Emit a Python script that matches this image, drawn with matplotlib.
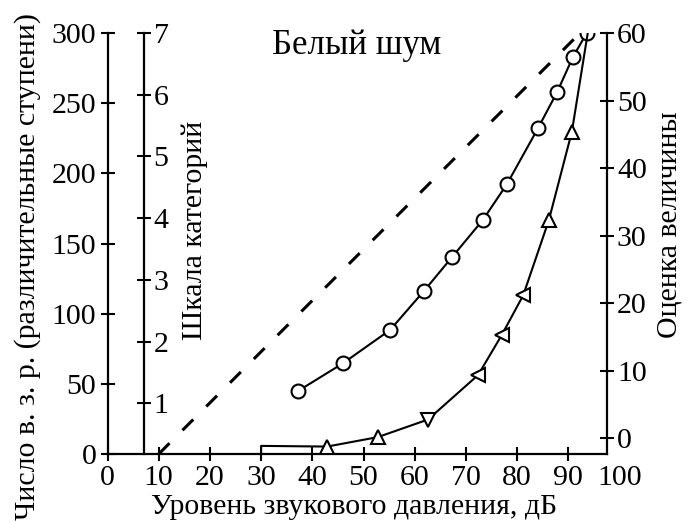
import matplotlib
matplotlib.use('Agg')
import matplotlib.pyplot as plt

plt.rcParams['font.family'] = ['Liberation Serif', 'DejaVu Serif']

# уровень звукового давления, дБ
circle_x = [37.2, 46.0, 55.2, 61.8, 67.3, 73.3, 78.0, 84.1, 87.8, 90.9, 93.6]
# шкала категорий (1..7)
circle_y = [1.20, 1.65, 2.19, 2.82, 3.37, 3.97, 4.55, 5.46, 6.04, 6.61, 7.0]

# оценка величины (0..60); first two points are the flat start, last is the shared top
tri_x = [30.0, 30.0, 42.9, 52.8, 62.6, 72.4, 77.0, 81.2, 86.2, 90.7, 93.8]
tri_y = [-2.3, -1.1, -1.2, 0.2, 2.8, 9.4, 15.3, 21.2, 32.3, 45.4, 60.0]
tri_marks = ['', '', '^', '^', 'v', '<', '<', '<', '^', '^', '']

# число в. з. р. - straight dashed line
jnd_x = [10, 92.3]
jnd_y = [0, 300]

x_ticks = list(range(0, 101, 10))
left_ticks = [0, 50, 100, 150, 200, 250, 300]
cat_ticks = [1, 2, 3, 4, 5, 6, 7]
right_ticks = [0, 10, 20, 30, 40, 50, 60]

W, H = 693, 522
fig = plt.figure(figsize=(W / 100, H / 100), dpi=100)
ax = fig.add_axes([107.5 / W, 68 / H, 512 / W, 421 / H])

lw = 1.6
fs = 21.5
tick_kw = dict(direction='inout', length=10, width=1.5, labelsize=fs)

# main axes: left scale 0..300
ax.set_xlim(0, 100)
ax.set_ylim(0, 300)
for s in ['top', 'right']:
    ax.spines[s].set_visible(False)
ax.spines['left'].set_linewidth(lw)
ax.spines['bottom'].set_linewidth(lw)
ax.spines['bottom'].set_bounds(0, 97.6)
ax.set_xticks(x_ticks)
ax.set_yticks(left_ticks)
ax.tick_params(axis='both', pad=3, **tick_kw)
ax.xaxis.get_major_ticks()[-1].tick1line.set_visible(False)

ax.plot(jnd_x, jnd_y, color='black', lw=2.2, ls=(0, (5, 6)), zorder=2)

# category scale axis
ax2 = ax.twinx()
ax2.set_ylim(0.18, 7)
for s in ['top', 'left', 'bottom']:
    ax2.spines[s].set_visible(False)
ax2.spines['right'].set_position(('data', 7.1))
ax2.spines['right'].set_linewidth(lw)
ax2.set_yticks(cat_ticks)
ax2.tick_params(axis='y', pad=2, **tick_kw)
ax2.plot(circle_x, circle_y, color='black', lw=1.5, marker='o', ms=10,
         mfc='white', mec='black', mew=1.5, zorder=3)

# magnitude estimation axis
ax3 = ax.twinx()
ax3.set_ylim(-2.3, 60)
for s in ['top', 'left', 'bottom']:
    ax3.spines[s].set_visible(False)
ax3.spines['right'].set_position(('data', 97.6))
ax3.spines['right'].set_linewidth(lw)
ax3.set_yticks(right_ticks)
ax3.tick_params(axis='y', pad=2, **tick_kw)
ax3.plot(tri_x, tri_y, color='black', lw=1.5, zorder=3)
for x, y, m in zip(tri_x, tri_y, tri_marks):
    if m:
        ax3.plot([x], [y], ls='none', marker=m, ms=10, mfc='white',
                 mec='black', mew=1.5, zorder=4)

fig.text(354 / W, 1 - 507 / H, 'Уровень звукового давления, дБ',
         ha='center', va='center', fontsize=fs)
fig.text(28 / W, 1 - 266 / H, 'Число в. з. р. (различительные ступени)',
         ha='center', va='center', rotation=90, fontsize=fs)
fig.text(195 / W, 1 - 230 / H, 'Шкала категорий',
         ha='center', va='center', rotation=90, fontsize=fs)
fig.text(670 / W, 1 - 225 / H, 'Оценка величины',
         ha='center', va='center', rotation=90, fontsize=fs)
fig.text(357 / W, 1 - 45 / H, 'Белый шум',
         ha='center', va='center', fontsize=25)

fig.savefig('out.png', dpi=100)
